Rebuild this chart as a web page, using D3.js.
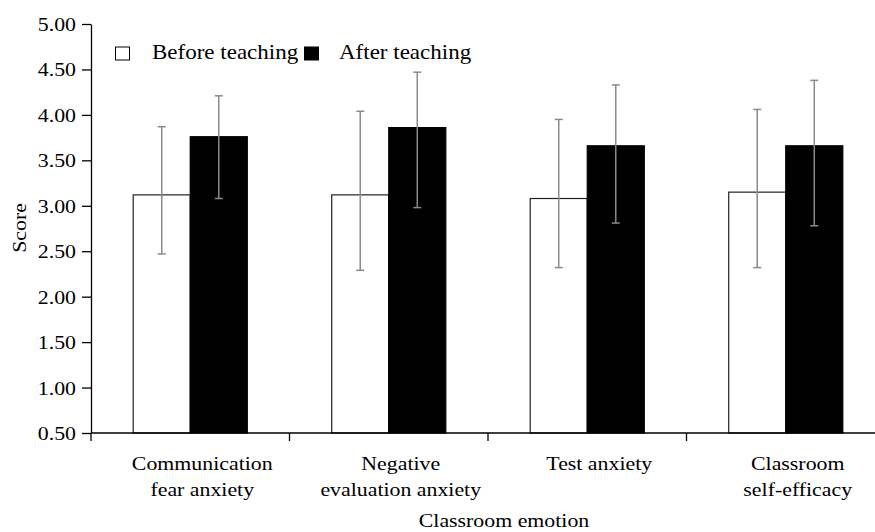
<!DOCTYPE html>
<html>
<head>
<meta charset="utf-8">
<script src="https://cdn.jsdelivr.net/npm/d3@7"></script>
<style>
  html, body { margin: 0; padding: 0; background: #fff; }
  svg { display: block; }
  text { font-family: "Liberation Serif", "Times New Roman", serif; fill: #000; }
</style>
</head>
<body>
<svg id="chart" width="875" height="532"></svg>
<script>
const categories = [["Communication", "fear anxiety"], ["Negative", "evaluation anxiety"], ["Test anxiety"], ["Classroom", "self-efficacy"]];
const seriesNames = ["Before teaching", "After teaching"];
const beforeValues = [3.12, 3.12, 3.08, 3.15];
const beforeUpper = [3.87, 4.04, 3.95, 4.06];
const beforeLower = [2.47, 2.29, 2.32, 2.32];
const afterValues = [3.76, 3.86, 3.66, 3.66];
const afterUpper = [4.21, 4.47, 4.33, 4.38];
const afterLower = [3.08, 2.98, 2.81, 2.78];
const yTicks = [0.5, 1.0, 1.5, 2.0, 2.5, 3.0, 3.5, 4.0, 4.5, 5.0];

const SX = 1.15; // horizontal stretch of text in the reference
const svg = d3.select("#chart");
const plotLeft = 91, plotRight = 885, plotTop = 24, plotBottom = 433;

const catKeys = categories.map(c => c.join(" "));
const x = d3.scaleBand().domain(catKeys).range([plotLeft, plotRight]).paddingInner(0).paddingOuter(0);
const x1 = d3.scaleBand().domain(seriesNames).range([0, x.bandwidth()]).paddingInner(0).paddingOuter(0.74);
const y = d3.scaleLinear().domain([0.5, 5]).range([plotBottom, plotTop]);

const data = catKeys.map((k, i) => ({
  key: k,
  vals: [
    {s: seriesNames[0], v: beforeValues[i], hi: beforeUpper[i], lo: beforeLower[i]},
    {s: seriesNames[1], v: afterValues[i], hi: afterUpper[i], lo: afterLower[i]}
  ]
}));

// bars
const groups = svg.append("g").selectAll("g").data(data).join("g")
  .attr("transform", d => `translate(${x(d.key)},0)`);
groups.selectAll("rect").data(d => d.vals).join("rect")
  .attr("x", d => x1(d.s))
  .attr("y", d => y(d.v))
  .attr("width", x1.bandwidth())
  .attr("height", d => y(0.5) - y(d.v))
  .attr("fill", d => d.s === seriesNames[0] ? "#fff" : "#000")
  .attr("stroke", d => d.s === seriesNames[0] ? "#222" : "#000")
  .attr("stroke-width", 1.2);

// error bars
const eb = groups.selectAll("g.err").data(d => d.vals).join("g").attr("class", "err")
  .attr("stroke", "#8a8a8a").attr("stroke-width", 1.5);
eb.append("line")
  .attr("x1", d => x1(d.s) + x1.bandwidth() / 2).attr("x2", d => x1(d.s) + x1.bandwidth() / 2)
  .attr("y1", d => y(d.hi)).attr("y2", d => y(d.lo));
eb.append("line")
  .attr("x1", d => x1(d.s) + x1.bandwidth() / 2 - 4).attr("x2", d => x1(d.s) + x1.bandwidth() / 2 + 4)
  .attr("y1", d => y(d.hi)).attr("y2", d => y(d.hi));
eb.append("line")
  .attr("x1", d => x1(d.s) + x1.bandwidth() / 2 - 4).attr("x2", d => x1(d.s) + x1.bandwidth() / 2 + 4)
  .attr("y1", d => y(d.lo)).attr("y2", d => y(d.lo));

// y axis
const yAxis = svg.append("g").attr("transform", `translate(${plotLeft},0)`)
  .call(d3.axisLeft(y).tickValues(yTicks).tickFormat(d3.format(".2f")).tickSize(9).tickSizeOuter(0));
yAxis.select(".domain").attr("stroke", "#000").attr("stroke-width", 1.3);
yAxis.selectAll(".tick line").attr("stroke", "#000").attr("stroke-width", 1.3);
yAxis.selectAll(".tick text")
  .attr("x", -15 / SX).attr("dy", "0.34em")
  .attr("transform", `scale(${SX},1)`)
  .style("font-size", "19px").style("font-family", "'Liberation Serif', serif").attr("fill", "#000");

// x axis
const xAxis = svg.append("g").attr("transform", `translate(0,${plotBottom})`);
xAxis.append("line").attr("x1", plotLeft).attr("x2", plotRight).attr("y1", 0).attr("y2", 0)
  .attr("stroke", "#000").attr("stroke-width", 1.3);
xAxis.selectAll("line.tk").data(catKeys).join("line").attr("class", "tk")
  .attr("x1", d => x(d)).attr("x2", d => x(d)).attr("y1", 0).attr("y2", 8)
  .attr("stroke", "#000").attr("stroke-width", 1.3);

function stretchedText(parent, tx, ty, str, size, anchor, extra) {
  return parent.append("text")
    .attr("transform", `translate(${tx},${ty}) ${extra || ""} scale(${SX},1)`)
    .attr("text-anchor", anchor || "middle")
    .style("font-size", size + "px")
    .text(str);
}

categories.forEach((lines, i) => {
  const cx = x(catKeys[i]) + x.bandwidth() / 2 + 12;
  lines.forEach((ln, j) => stretchedText(svg, cx, 470 + j * 26, ln, 19, "middle"));
});

// axis titles
stretchedText(svg, 504, 527, "Classroom emotion", 19, "middle");
stretchedText(svg, 26, 228, "Score", 19, "middle", "rotate(-90)");

// legend
const legendX = [115, 304];
const legendTextX = [152, 339];
seriesNames.forEach((s, i) => {
  svg.append("rect").attr("x", legendX[i] + 0.5).attr("y", 47).attr("width", 14).attr("height", 13)
    .attr("fill", i === 0 ? "#fff" : "#000").attr("stroke", "#000").attr("stroke-width", 1);
  stretchedText(svg, legendTextX[i], 59, s, 20, "start");
});
</script>
</body>
</html>
